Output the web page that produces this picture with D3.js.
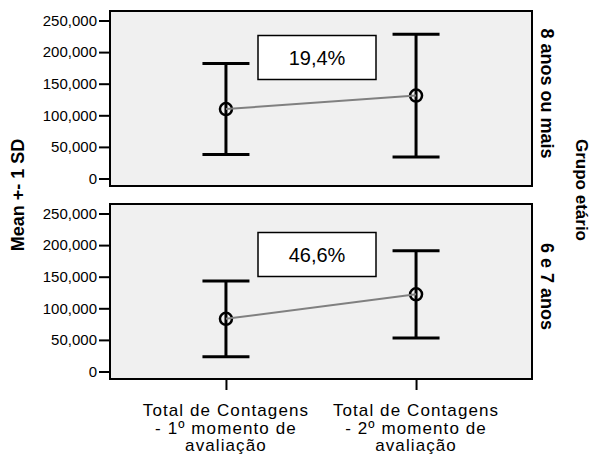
<!DOCTYPE html>
<html>
<head>
<meta charset="utf-8">
<script src="https://cdn.jsdelivr.net/npm/d3@7"></script>
<style>
  html, body { margin: 0; padding: 0; background: #fff; }
  svg { display: block; font-family: "Liberation Sans", Arial, Helvetica, sans-serif; }
</style>
</head>
<body>
<svg id="chart" width="594" height="459"></svg>
<script>
// ---- data ----
const categories = [
  ["Total de Contagens", "- 1º momento de", "avaliação"],
  ["Total de Contagens", "- 2º momento de", "avaliação"]
];
const groups = ["8 anos ou mais", "6 e 7 anos"];
const meansOlder = [109900, 131200];
const sdOlder = [72000, 97000];
const meansYounger = [83300, 122100];
const sdYounger = [60000, 69000];
const changeLabels = ["19,4%", "46,6%"];
const yTicks = [0, 50000, 100000, 150000, 200000, 250000];
const yTitle = "Mean +- 1 SD";
const facetTitle = "Grupo etário";

// ---- layout ----
const svg = d3.select("#chart");
const left = 110, right = 532;
const panels = [
  { top: 11, bottom: 186, means: meansOlder, sds: sdOlder, group: groups[0], label: changeLabels[0] },
  { top: 204, bottom: 379, means: meansYounger, sds: sdYounger, group: groups[1], label: changeLabels[1] }
];

const x = d3.scalePoint()
  .domain(d3.range(categories.length))
  .range([left, right])
  .padding(0.61);

const fmt = d3.format(",");

panels.forEach((p, pi) => {
  const y = d3.scaleLinear().domain([0, 250000]).range([p.bottom - 7.5, p.top + 9.5]);
  const g = svg.append("g");

  g.append("rect")
    .attr("x", left).attr("y", p.top)
    .attr("width", right - left).attr("height", p.bottom - p.top)
    .attr("fill", "#f0f0f0");

  const ax = g.append("g")
    .attr("transform", `translate(${left},0)`)
    .call(d3.axisLeft(y).tickValues(yTicks).tickFormat(fmt).tickSize(11).tickPadding(2));
  ax.select(".domain").remove();
  ax.selectAll(".tick line").attr("stroke", "#000").attr("stroke-width", 2);
  ax.selectAll(".tick text").attr("fill", "#000").style("font-size", "15px")
    .style("font-family", "'Liberation Sans', Arial, sans-serif");

  const bx = 258, bw = 118, bh = 44;
  const byTop = p.top + (pi === 0 ? 24.5 : 28.5);
  g.append("rect")
    .attr("x", bx).attr("y", byTop).attr("width", bw).attr("height", bh)
    .attr("fill", "#fff").attr("stroke", "#000").attr("stroke-width", 1.5);
  g.append("text")
    .attr("x", bx + bw / 2).attr("y", byTop + bh / 2 + 7)
    .attr("text-anchor", "middle")
    .style("font-size", "20px")
    .text(p.label);

  const capHalf = 23.5;
  p.means.forEach((m, i) => {
    const cx = x(i);
    const lo = y(m - p.sds[i]), hi = y(m + p.sds[i]);
    g.append("line").attr("x1", cx).attr("x2", cx).attr("y1", lo).attr("y2", hi)
      .attr("stroke", "#000").attr("stroke-width", 3);
    [lo, hi].forEach(v => {
      g.append("line").attr("x1", cx - capHalf).attr("x2", cx + capHalf)
        .attr("y1", v).attr("y2", v)
        .attr("stroke", "#000").attr("stroke-width", 3);
    });
  });

  g.selectAll("circle.m").data(p.means).join("circle")
    .attr("class", "m")
    .attr("cx", (d, i) => x(i)).attr("cy", d => y(d))
    .attr("r", 6).attr("fill", "none")
    .attr("stroke", "#000").attr("stroke-width", 2.5);

  g.append("path")
    .datum(p.means)
    .attr("d", d3.line().x((d, i) => x(i)).y(d => y(d)))
    .attr("fill", "none").attr("stroke", "#808080").attr("stroke-width", 2);

  g.append("rect")
    .attr("x", left).attr("y", p.top)
    .attr("width", right - left).attr("height", p.bottom - p.top)
    .attr("fill", "none").attr("stroke", "#000").attr("stroke-width", 2);

  const fy = (p.top + p.bottom) / 2 - 5;
  g.append("text")
    .attr("transform", `translate(541,${fy}) rotate(90)`)
    .attr("text-anchor", "middle")
    .style("font-size", "18px").style("font-weight", "bold")
    .text(p.group);
});

const last = panels[panels.length - 1];
const xa = svg.append("g")
  .attr("transform", `translate(0,${last.bottom})`)
  .call(d3.axisBottom(x).tickSize(11).tickFormat(""));
xa.select(".domain").remove();
xa.selectAll(".tick line").attr("stroke", "#000").attr("stroke-width", 2);

categories.forEach((lines, i) => {
  const t = svg.append("text")
    .attr("text-anchor", "middle")
    .style("font-size", "17px")
    .style("letter-spacing", "1.1px");
  lines.forEach((ln, k) => {
    t.append("tspan").attr("x", x(i)).attr("y", 416 + k * 17.5).text(ln);
  });
});

svg.append("text")
  .attr("transform", `translate(24,195) rotate(-90)`)
  .attr("text-anchor", "middle")
  .style("font-size", "18px").style("font-weight", "bold")
  .text(yTitle);

svg.append("text")
  .attr("transform", `translate(576,190) rotate(90)`)
  .attr("text-anchor", "middle")
  .style("font-size", "17px").style("font-weight", "bold")
  .text(facetTitle);
</script>
</body>
</html>
